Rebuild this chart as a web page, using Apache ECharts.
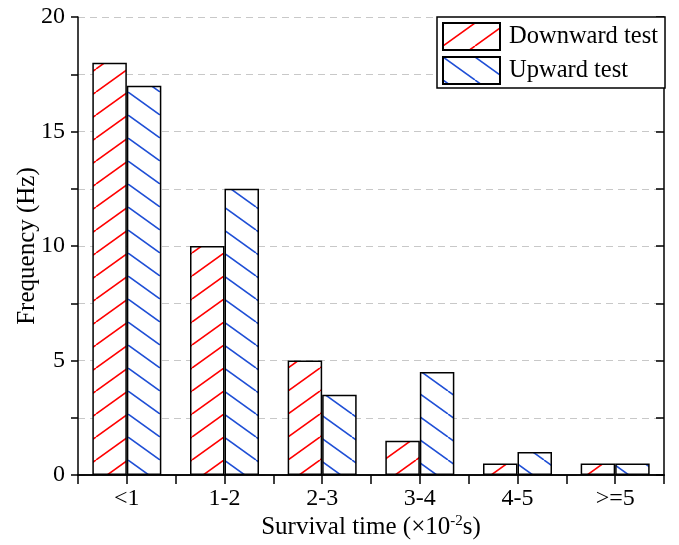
<!DOCTYPE html>
<html>
<head>
<meta charset="utf-8">
<script src="https://cdn.jsdelivr.net/npm/echarts@6/dist/echarts.min.js"></script>
<style>
  html, body { margin: 0; padding: 0; background: #fff; }
  #chart { width: 679px; height: 545px; }
</style>
</head>
<body>
<div id="chart"></div>
<script>
// survival time bins (x 10^-2 s)
const categories = ["<1", "1-2", "2-3", "3-4", "4-5", ">=5"];
const downward = [18, 10, 5, 1.5, 0.5, 0.5];
const upward = [17, 12.5, 3.5, 4.5, 1, 0.5];
const yTicks = [0, 5, 10, 15, 20];

const FONT = "Liberation Serif";

// hatch pattern: dir 1 = "/", dir -1 = "\"
function hatch(color, dir) {
  const W = 32, H = 23;
  const c = document.createElement("canvas");
  c.width = W;
  c.height = H;
  const ctx = c.getContext("2d");
  ctx.fillStyle = "#fff";
  ctx.fillRect(0, 0, W, H);
  ctx.strokeStyle = color;
  ctx.lineWidth = 1.6;
  for (let k = -1; k <= 1; k++) {
    ctx.beginPath();
    if (dir > 0) {
      ctx.moveTo(k * W, H);
      ctx.lineTo(W + k * W, 0);
    } else {
      ctx.moveTo(k * W, 0);
      ctx.lineTo(W + k * W, H);
    }
    ctx.stroke();
  }
  return { image: c, repeat: "repeat" };
}

let myChart = echarts.init(document.getElementById("chart"));
myChart.setOption({
  backgroundColor: "#fff",
  animation: false,
  textStyle: { fontFamily: FONT },
  grid: { left: 78, right: 15, top: 17, bottom: 67 },
  legend: {
    left: 437,
    top: 17,
    orient: "vertical",
    icon: "rect",
    itemWidth: 57,
    itemHeight: 27,
    itemGap: 5,
    padding: [5, 7, 3, 5],
    borderColor: "#000",
    borderWidth: 1.5,
    backgroundColor: "#fff",
    textStyle: { fontFamily: FONT, fontSize: 24.5, color: "#000", padding: [0, 0, 0, 4] },
    data: ["Downward test", "Upward test"],
  },
  xAxis: [
    {
      type: "category",
      data: categories,
      boundaryGap: true,
      name: "Survival time (×10{sup|-2}s)",
      nameLocation: "middle",
      nameMoveOverlap: false,
      nameGap: 39,
      nameTextStyle: {
        fontFamily: FONT,
        fontSize: 25,
        color: "#000",
        rich: {
          sup: { fontFamily: FONT, fontSize: 15, color: "#000", padding: [0, 0, 12, 0] },
        },
      },
      axisLine: { lineStyle: { color: "#000", width: 1.5 } },
      axisTick: { inside: true, length: 4, lineStyle: { color: "#000", width: 1.5 } },
      axisLabel: { fontFamily: FONT, fontSize: 24, color: "#000", margin: 12 },
    },
    {
      type: "value",
      position: "top",
      min: 0,
      max: 12,
      interval: 1,
      axisLine: { show: true, lineStyle: { color: "#000", width: 1.5 } },
      axisTick: { show: true, inside: true, length: 9, lineStyle: { color: "#000", width: 1.5 } },
      axisLabel: { show: false },
      splitLine: { show: false },
    },
  ],
  yAxis: [
    {
      type: "value",
      min: 0,
      max: 20,
      interval: 2.5,
      name: "Frequency (Hz)",
      nameLocation: "middle",
      nameMoveOverlap: false,
      nameGap: 38,
      nameTextStyle: { fontFamily: FONT, fontSize: 25, color: "#000" },
      axisLine: { show: true, lineStyle: { color: "#000", width: 1.5 } },
      axisTick: { show: true, length: 7, lineStyle: { color: "#000", width: 1.5 } },
      axisLabel: {
        fontFamily: FONT,
        fontSize: 24,
        color: "#000",
        margin: 13,
        formatter: (v) => (yTicks.indexOf(v) >= 0 ? String(v) : ""),
      },
      splitLine: { show: true, lineStyle: { color: "#c8c8c8", type: [7, 5], width: 1 } },
    },
    {
      type: "value",
      position: "right",
      min: 0,
      max: 20,
      interval: 2.5,
      axisLine: { show: true, lineStyle: { color: "#000", width: 1.5 } },
      axisTick: { show: true, inside: true, length: 8, lineStyle: { color: "#000", width: 1.5 } },
      axisLabel: { show: false },
      splitLine: { show: false },
    },
  ],
  series: [
    {
      name: "Downward test",
      type: "bar",
      data: downward,
      barWidth: 34.5,
      barGap: "0%",
      itemStyle: { color: hatch("#ff0000", 1), borderColor: "#000", borderWidth: 1.5 },
    },
    {
      name: "Upward test",
      type: "bar",
      data: upward,
      barWidth: 34.5,
      barGap: "0%",
      itemStyle: { color: hatch("#1f4fd6", -1), borderColor: "#000", borderWidth: 1.5 },
    },
  ],
});
</script>
</body>
</html>
